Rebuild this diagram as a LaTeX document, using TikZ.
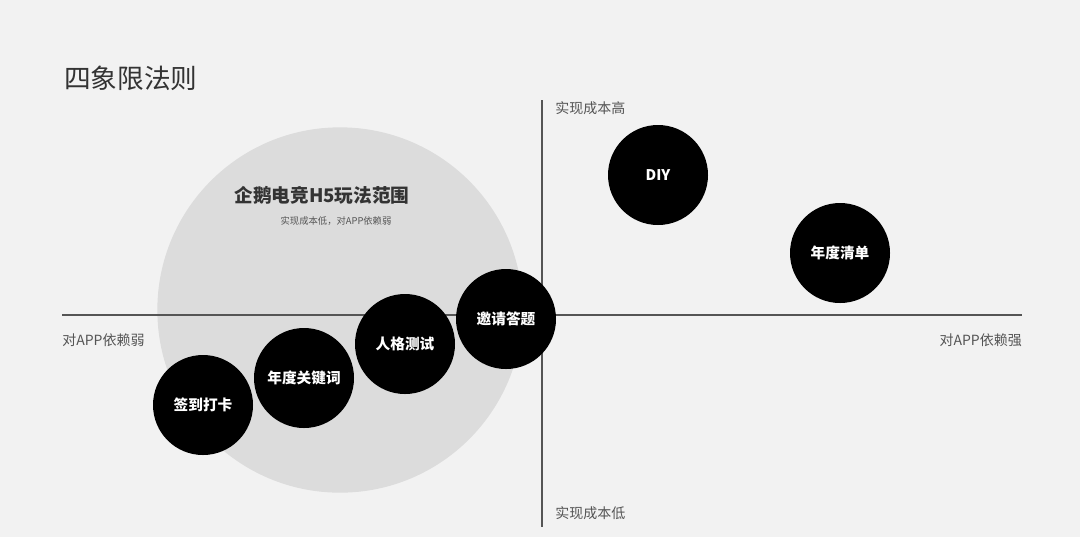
\documentclass[tikz,border=0pt]{standalone}
\usepackage{fontspec}
\setmainfont{Noto Sans CJK SC}
\usetikzlibrary{positioning}
\definecolor{bgcol}{HTML}{F2F2F2}
\definecolor{zonecol}{HTML}{DCDCDC}
\definecolor{txtcol}{HTML}{333333}
\definecolor{axiscol}{HTML}{555555}
\begin{document}
\begin{tikzpicture}[x=0.75pt,y=-0.75pt,
    play node/.style={circle,fill=black,minimum size=75pt,inner sep=0pt,
      text=white,font=\fontsize{11}{13}\selectfont\bfseries},
    axis label/.style={text=axiscol,font=\fontsize{10.5}{12}\selectfont,inner sep=0pt},
    axis line/.style={draw=axiscol,line width=0.9pt}]

  \fill[bgcol] (0,0) rectangle (1080,537);
  \useasboundingbox (0,0) rectangle (1080,537);

  \node[anchor=west,text=txtcol,font=\fontsize{20}{24}\selectfont,inner sep=0pt] (title) at (64,78) {四象限法则};

  % zone
  \node[circle,fill=zonecol,minimum size=274pt,inner sep=0pt] (zone) at (340,310) {};
  \node[font=\fontsize{14}{16}\selectfont\bfseries,text=txtcol] (zonetitle) at (322,195) {企鹅电竞H5玩法范围};
  \node[font=\fontsize{7}{8}\selectfont,text=axiscol] (zonesub) at (336,221) {实现成本低，对APP依赖弱};

  % axes
  \coordinate (xl) at (62,315);
  \coordinate (xr) at (1022,315);
  \coordinate (yt) at (542,100);
  \coordinate (yb) at (542,527);
  \draw[axis line] (xl) -- (xr);
  \draw[axis line] (yt) -- (yb);

  \node[axis label,anchor=west] (hi) at (555,108) {实现成本高};
  \node[axis label,anchor=west] (lo) at (555,513) {实现成本低};
  \node[axis label,anchor=west] (weak) at (62,340) {对APP依赖弱};
  \node[axis label,anchor=east] (strong) at (1022,340) {对APP依赖强};

  % plays
  \node[play node] (diy) at (658,175) {DIY};
  \node[play node] (list) at (840,253) {年度清单};
  \node[play node] (invite) at (506,319) {邀请答题};
  \node[play node] (person) at (405,344) {人格测试};
  \node[play node] (keyword) at (304,378) {年度关键词};
  \node[play node] (sign) at (203,405) {签到打卡};
\end{tikzpicture}
\end{document}
